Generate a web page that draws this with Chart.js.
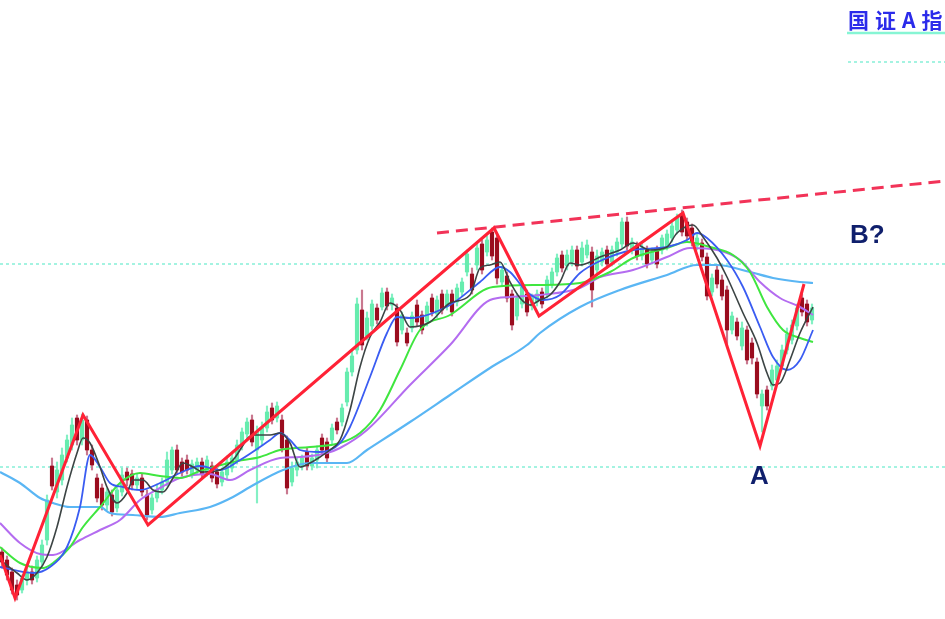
<!DOCTYPE html>
<html>
<head>
<meta charset="utf-8">
<script src="https://cdn.jsdelivr.net/npm/chart.js@4.4.0/dist/chart.umd.min.js"></script>
<style>
  html, body { margin: 0; padding: 0; background: #fff; overflow: hidden; }
  #wrap { width: 945px; height: 619px; position: relative; }
</style>
</head>
<body>
<div id="wrap"><canvas id="kline"></canvas></div>
<script>
// daily candles, index points
const opens = [
  2448,2440,2428,2415,2410,2420,2428,2422,2438,2460,
  2534,2508,2520,2542,2555,2582,2560,2580,2550,2522,
  2512,2495,2505,2492,2508,2528,2526,2515,2522,2505,
  2490,2502,2510,2518,2530,2550,2538,2540,2526,2530,
  2538,2528,2534,2528,2518,2525,2532,2540,2555,2566,
  2580,2550,2560,2572,2592,2582,2580,2560,2518,2530,
  2534,2548,2534,2540,2562,2558,2560,2578,2578,2598,
  2628,2650,2690,2664,2674,2692,2693,2708,2695,2692,
  2670,2667,2672,2695,2685,2678,2702,2686,2706,2694,
  2706,2698,2708,2728,2726,2735,2756,2748,2768,2762,
  2718,2724,2706,2684,2696,2706,2694,2698,2708,2706,
  2716,2728,2745,2734,2738,2750,2738,2745,2748,2730,
  2738,2750,2738,2748,2756,2778,2750,2754,2744,2750,
  2740,2750,2750,2754,2762,2770,2786,2778,2772,2754,
  2757,2743,2708,2730,2720,2710,2670,2678,2654,2670,
  2657,2638,2594,2610,2614,2620,2634,2650,2660,2674,
  2702,2696,2680
];
const highs = [
  2452,2444,2432,2420,2425,2432,2434,2444,2460,2505,
  2542,2538,2552,2565,2582,2585,2586,2584,2555,2526,
  2516,2512,2510,2515,2532,2532,2530,2526,2526,2510,
  2506,2516,2522,2548,2553,2555,2542,2545,2540,2542,
  2542,2544,2538,2532,2532,2544,2548,2560,2572,2582,
  2585,2574,2578,2594,2597,2598,2585,2564,2538,2542,
  2545,2552,2546,2554,2566,2562,2576,2582,2596,2632,
  2650,2702,2710,2688,2700,2696,2712,2712,2706,2696,
  2688,2672,2688,2700,2689,2698,2706,2704,2710,2710,
  2710,2716,2722,2750,2732,2756,2760,2764,2772,2766,
  2734,2728,2710,2706,2717,2710,2706,2710,2712,2724,
  2732,2746,2749,2750,2754,2754,2758,2760,2753,2750,
  2752,2754,2754,2762,2782,2783,2762,2758,2756,2754,
  2752,2754,2765,2770,2778,2786,2790,2782,2776,2766,
  2761,2747,2726,2734,2725,2714,2688,2682,2678,2674,
  2662,2642,2610,2614,2635,2640,2655,2672,2680,2696,
  2706,2700,2696
];
const lows = [
  2432,2420,2406,2400,2407,2415,2416,2418,2434,2455,
  2510,2502,2515,2538,2550,2555,2555,2545,2530,2498,
  2490,2490,2484,2488,2504,2514,2510,2510,2504,2480,
  2486,2498,2506,2514,2526,2526,2524,2526,2522,2526,
  2522,2524,2518,2512,2514,2520,2528,2536,2550,2562,
  2554,2497,2555,2568,2576,2578,2548,2506,2514,2524,
  2530,2530,2530,2532,2546,2538,2556,2566,2574,2594,
  2624,2646,2650,2660,2670,2676,2690,2690,2690,2654,
  2666,2654,2668,2674,2666,2674,2684,2682,2686,2690,
  2684,2694,2704,2724,2706,2730,2726,2744,2740,2716,
  2714,2698,2670,2680,2692,2684,2690,2694,2692,2702,
  2712,2724,2728,2730,2734,2730,2734,2742,2693,2725,
  2734,2732,2734,2744,2752,2750,2746,2740,2740,2732,
  2736,2732,2746,2750,2758,2766,2764,2760,2754,2750,
  2739,2700,2704,2712,2700,2654,2666,2660,2650,2636,
  2636,2602,2568,2590,2610,2616,2630,2646,2656,2670,
  2684,2674,2676
];
const closes = [
  2438,2425,2410,2405,2422,2428,2420,2440,2455,2500,
  2514,2530,2545,2560,2575,2560,2580,2550,2535,2502,
  2495,2508,2488,2510,2525,2520,2515,2522,2508,2485,
  2502,2510,2518,2540,2550,2530,2528,2530,2536,2538,
  2526,2540,2522,2516,2528,2538,2542,2555,2568,2578,
  2558,2568,2572,2588,2580,2594,2552,2512,2532,2538,
  2542,2534,2542,2550,2550,2542,2572,2570,2592,2628,
  2644,2696,2655,2682,2696,2680,2707,2694,2702,2658,
  2685,2657,2684,2678,2670,2694,2688,2700,2690,2706,
  2688,2712,2718,2746,2710,2752,2730,2760,2744,2722,
  2730,2702,2675,2702,2713,2688,2702,2706,2696,2720,
  2728,2742,2732,2745,2750,2734,2752,2755,2710,2744,
  2748,2736,2750,2758,2778,2754,2758,2744,2752,2736,
  2748,2736,2762,2766,2774,2782,2768,2764,2758,2762,
  2743,2704,2722,2716,2704,2670,2684,2664,2672,2640,
  2642,2606,2606,2594,2630,2634,2650,2666,2675,2692,
  2688,2678,2692
];

// moving averages: [candle index, value]
const ma5 = [
  [-0.4,2440],[3,2427],[5,2420],[7,2427],[9,2443],[11,2473],[13,2513],[15,2547],[16.2,2562],[17.6,2557],
  [19.6,2533],[21,2513],[23,2497],[25,2507],[26.2,2520],[28.2,2520],[30.2,2510],[32.2,2508],[34.2,2522],[36.2,2537],
  [38.2,2533],[40.2,2528],[43.6,2530],[46.2,2540],[50.2,2565],[53.6,2565],[55.6,2567],[57.6,2557],[59.6,2533],[61.6,2537],
  [63.6,2543],[65.6,2550],[67.6,2560],[69.6,2590],[71.6,2633],[73.6,2663],[75.6,2678],[77.6,2697],[79.6,2690],[81.6,2673],
  [85.6,2678],[89.6,2697],[93.6,2705],[95.6,2732],[97.6,2735],[99.6,2738],[101.6,2718],[103.6,2702],[105.6,2695],[107.6,2700],
  [109.6,2705],[111.6,2718],[113.6,2737],[115.6,2735],[117.6,2738],[119.6,2743],[123.6,2750],[126.2,2757],[129.6,2750],[133,2753],
  [135,2767],[138.2,2775],[140.2,2763],[143,2742],[145,2723],[148.2,2687],[151,2657],[153,2627],[154.2,2615],[155.6,2617],
  [157.6,2640],[159.6,2667],[162.2,2693]
];
const ma10 = [
  [-0.4,2433],[6.2,2427],[9.6,2433],[13,2453],[15.6,2493],[17.6,2545],[19.6,2533],[21.6,2517],[24.2,2513],[27.6,2510],
  [31.6,2517],[35.6,2527],[39.6,2534],[43.6,2530],[47.6,2540],[53.6,2560],[55.6,2567],[57.6,2560],[59.6,2550],[63.6,2548],
  [67.6,2557],[69.6,2573],[73.6,2623],[77,2667],[79,2683],[81.6,2682],[89.6,2695],[95.6,2718],[99.6,2733],[101.6,2728],
  [105,2708],[108.2,2700],[111.6,2705],[115.6,2727],[119.6,2739],[126.2,2750],[133,2753],[137,2760],[139,2767],[141,2762],
  [145,2740],[148.2,2713],[151.6,2673],[154.2,2643],[157,2630],[159.6,2640],[162.2,2670]
];
const ma20 = [
  [-0.4,2453],[3.6,2437],[8.2,2432],[10.2,2437],[13.6,2453],[16.2,2473],[19.6,2493],[23.6,2517],[27.6,2527],[31.6,2524],
  [35.6,2522],[39.6,2529],[46.2,2538],[51.6,2543],[55.6,2550],[61.6,2553],[67.6,2557],[71.6,2567],[75.6,2590],[79.6,2630],
  [83.6,2670],[89.6,2685],[98.2,2713],[107.6,2715],[115.6,2717],[121.6,2728],[126.2,2742],[133,2752],[137,2758],[141.6,2753],
  [146.2,2745],[149.6,2728],[153,2693],[156.2,2670],[159.6,2662],[162.2,2658]
];
const ma30 = [
  [-0.4,2477],[3.6,2457],[7.6,2446],[10.2,2445],[15.6,2460],[19.6,2470],[23.6,2480],[27.6,2500],[31.6,2512],[35.6,2522],
  [41.6,2526],[45.6,2520],[49.6,2530],[55.6,2542],[59.6,2543],[65,2547],[67.6,2552],[73,2570],[81.6,2615],[89.6,2655],
  [97.6,2700],[101.6,2703],[107.6,2705],[115.6,2712],[119.6,2723],[126.2,2730],[133,2743],[137.6,2752],[143,2750],[147.6,2740],
  [151.6,2718],[155.6,2702],[159.6,2693],[162.2,2685]
];
const ma60 = [
  [-0.4,2528],[3.6,2517],[7.6,2502],[10.2,2497],[13.6,2493],[19.6,2493],[21.6,2487],[26.2,2485],[31.6,2483],[35.6,2487],
  [41.6,2493],[46.2,2503],[49.6,2513],[56.2,2530],[61.6,2537],[69,2537],[73,2550],[81.6,2578],[89.6,2605],[97.6,2632],
  [105,2655],[107.6,2667],[115.6,2693],[123.6,2710],[133,2725],[139,2735],[143,2735],[149.6,2728],[154.2,2722],[159.6,2718],
  [162.2,2717]
];

// wave turning points and the upper trend line
const wavePts = [[-0.4,2445],[2.6,2402],[16.2,2585],[29.2,2475],[98.4,2772],[107.4,2684],[136.2,2787],[151.6,2554],[160.4,2716]];
const trendPts = [[87,2767],[188.6,2819]];
const levelVals = [2736, 2533];

const upBody = '#66ecae', downBody = '#9a0c1e';
const upWick = '#84f0c4', downWick = '#c9788f';

const xy = pts => pts.map(p => ({ x: p[0], y: p[1] }));
const isUp = closes.map((c, i) => c >= opens[i]);

function maLine(pts, color, order, width) {
  return {
    type: 'line', data: xy(pts), borderColor: color, borderWidth: width || 1.5,
    pointRadius: 0, fill: false, cubicInterpolationMode: 'monotone', order: order
  };
}

const datasets = [
  {
    type: 'bar', data: closes.map((c, i) => ({ x: i, y: [lows[i], highs[i]] })),
    backgroundColor: isUp.map(u => u ? upWick : downWick),
    barThickness: 1.5, grouped: false, order: 9
  },
  {
    type: 'bar', data: closes.map((c, i) => ({ x: i, y: [opens[i], c] })),
    backgroundColor: isUp.map(u => u ? upBody : downBody),
    barThickness: 3.5, grouped: false, order: 8
  },
  maLine(ma60, '#5ab6f4', 7, 2.2),
  maLine(ma30, '#b46cf0', 6, 2),
  maLine(ma20, '#3fe63f', 5, 2),
  maLine(ma10, '#3a5cf2', 4, 1.8),
  maLine(ma5, '#3c4444', 3, 1.6),
  {
    type: 'line', data: xy(wavePts), borderColor: '#ff2236', borderWidth: 3,
    pointRadius: 0, tension: 0, fill: false, order: 0
  },
  {
    type: 'line', data: xy(trendPts), borderColor: '#f23358', borderWidth: 3,
    borderDash: [12, 7], pointRadius: 0, fill: false, order: 1
  }
];
levelVals.forEach(v => datasets.push({
  type: 'line', data: [{ x: -0.4, y: v }, { x: 188.6, y: v }],
  borderColor: '#86f0d8', borderWidth: 1.5, borderDash: [3, 3], pointRadius: 0, order: 10
}));
// legend rule lines under the index name
datasets.push({
  type: 'line', data: [{ x: 169, y: 2967 }, { x: 188.6, y: 2967 }],
  borderColor: '#86f5d4', borderWidth: 2.5, pointRadius: 0, order: 10
});
datasets.push({
  type: 'line', data: [{ x: 169.2, y: 2938 }, { x: 188.6, y: 2938 }],
  borderColor: '#86f0d8', borderWidth: 1.5, borderDash: [3, 3], pointRadius: 0, order: 10
});

const labelsPlugin = {
  id: 'labels',
  afterDraw(chart) {
    const ctx = chart.ctx, xs = chart.scales.x, ys = chart.scales.y;
    ctx.save();
    ctx.textBaseline = 'alphabetic';
    ctx.fillStyle = '#2b2bea';
    ctx.font = 'bold 21px "Noto Sans CJK SC"';
    ctx.letterSpacing = '6px';
    ctx.fillText('国证A指', xs.getPixelForValue(169.2), ys.getPixelForValue(2972));
    ctx.letterSpacing = '0px';
    ctx.fillStyle = '#0f1f6c';
    ctx.font = 'bold 26px "Liberation Sans"';
    ctx.fillText('B?', xs.getPixelForValue(169.6), ys.getPixelForValue(2757));
    ctx.fillText('A', xs.getPixelForValue(149.6), ys.getPixelForValue(2516));
    ctx.restore();
  }
};

new Chart(document.getElementById('kline'), {
  type: 'bar',
  data: { datasets: datasets },
  options: {
    responsive: true,
    maintainAspectRatio: false,
    animation: false,
    devicePixelRatio: 1,
    layout: { padding: 0 },
    plugins: { legend: { display: false }, tooltip: { enabled: false } },
    scales: {
      x: { type: 'linear', min: -0.4, max: 188.6, offset: false, display: false },
      y: { min: 2381, max: 3000, display: false }
    }
  },
  plugins: [labelsPlugin]
});
</script>
</body>
</html>
